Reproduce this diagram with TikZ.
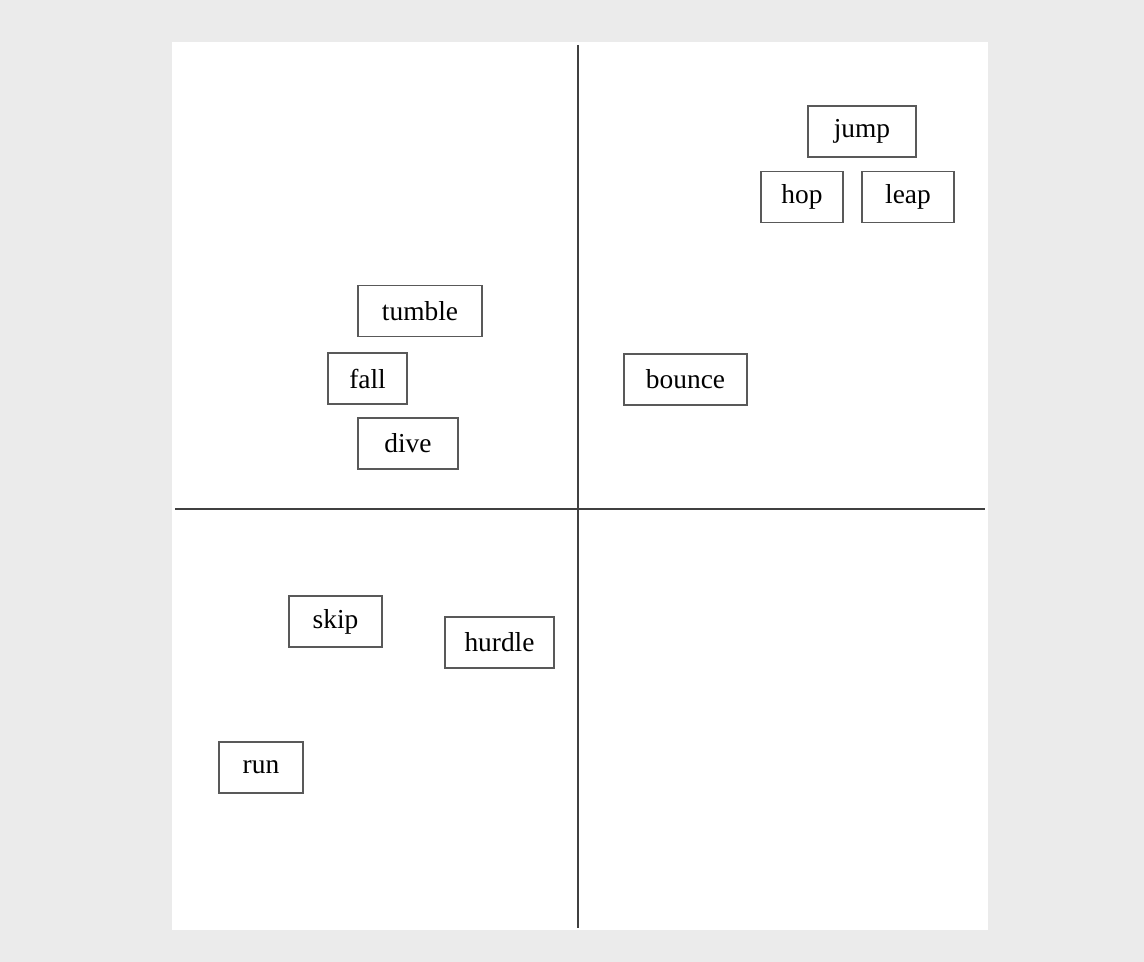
\documentclass[tikz,border=0pt]{standalone}
\usepackage{fontspec}
\setmainfont{Liberation Serif}
\usetikzlibrary{positioning}

\begin{document}
\begin{tikzpicture}[
  x=0.5pt, y=-0.5pt,
  font=\fontsize{13.7}{16}\selectfont,
  word/.style={draw=black!65, line width=0.7pt, fill=white, inner sep=0pt,
               minimum height=25.5pt},
  axis/.style={draw=black!75, line width=0.9pt}
]

\fill[black!8] (0,0) rectangle (1144,962);
\fill[white] (172,42) rectangle (988,930);

% ---------------- quadrant axes ----------------
\draw[axis] (578,45) -- (578,928);
\draw[axis] (175,509) -- (985,509);

% ---------------- upper right ----------------
\node[word, minimum width=54pt] (jump) at (862,131.5) {jump};
\node[word, minimum width=41pt] (hop) at (802,197) {hop};
\node[word, minimum width=46pt] (leap) at (908,197) {leap};
\node[word, minimum width=61.5pt] (bounce) at (685.5,379.5) {bounce};

% ---------------- upper left ----------------
\node[word, minimum width=62pt] (tumble) at (420,311) {tumble};
\node[word, minimum width=39.5pt] (fall) at (367.5,378.5) {fall};
\node[word, minimum width=50pt] (dive) at (408,443.5) {dive};

% ---------------- lower left ----------------
\node[word, minimum width=46.5pt] (skip) at (335.5,621.5) {skip};
\node[word, minimum width=54.5pt] (hurdle) at (499.5,642.5) {hurdle};
\node[word, minimum width=42pt] (run) at (261,767.5) {run};

\end{tikzpicture}
\end{document}
